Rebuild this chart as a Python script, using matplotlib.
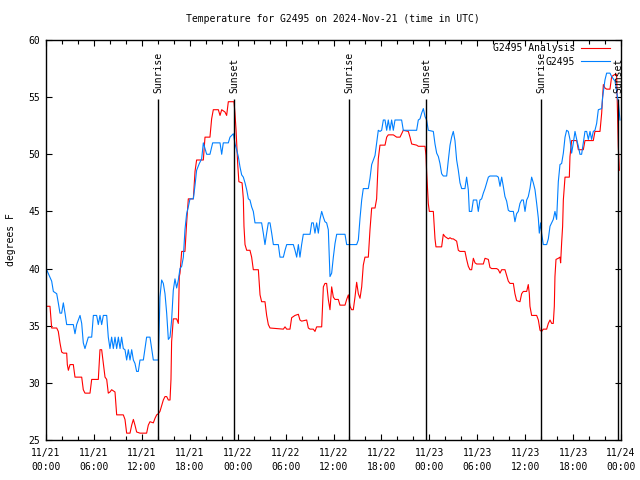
import matplotlib
matplotlib.use("Agg")
import matplotlib.pyplot as plt
import matplotlib.dates as mdates
import numpy as np
from datetime import datetime, timedelta

title = "Temperature for G2495 on 2024-Nov-21 (time in UTC)"
start = datetime(2024, 11, 21, 0, 0)

# hours since start, temperature (F)
obs_hours = [0.08, 0.71, 0.92, 1.34, 1.54, 1.75, 1.96, 2.17, 2.38, 2.59, 3.42, 3.63, 3.84, 4.26, 4.47, 4.67, 4.88,
             5.30, 5.72, 5.93, 6.34, 6.55, 6.76, 6.97, 7.18, 7.60, 7.80, 8.01, 8.22, 8.43, 8.64, 8.85, 9.06, 9.27,
             9.47, 9.68, 9.89, 10.10, 10.31, 10.52, 10.73, 10.94, 11.14, 11.35, 11.56, 11.77, 12.19, 12.40, 12.60,
             13.02, 13.23, 13.44, 14.07, 14.27, 14.48, 14.69, 14.90, 15.11, 15.32, 15.53, 15.73, 15.94, 16.15,
             16.36, 16.57, 16.78, 16.99, 17.20, 17.40, 17.61, 17.82, 18.03, 18.45, 18.66, 18.86, 19.20, 19.49,
             19.70, 20.12, 20.53, 20.87, 21.79, 22.00, 22.20, 22.83, 23.04,
             23.46, 23.67, 23.87, 24.08, 24.29, 24.50, 24.71, 24.92, 25.13, 25.34, 25.54, 25.75, 25.96, 26.17,
             27.00, 27.21, 27.42, 27.63, 27.84, 28.05, 28.26, 28.47, 29.09, 29.30, 29.72, 29.93, 30.14, 30.97,
             31.18, 31.39, 31.60, 31.80, 32.01, 32.22, 33.06, 33.27, 33.47, 33.68, 33.89, 34.10, 34.31, 34.52,
             34.73, 34.93, 35.14, 35.35, 35.56, 35.77, 35.98, 36.19, 36.40, 37.44, 37.65, 38.90, 39.11, 39.32,
             39.53, 39.73, 40.36, 40.57, 40.78, 40.99, 41.20, 41.40, 41.61, 41.82, 42.03, 42.24, 42.45, 42.66,
             42.86, 43.07, 43.28, 43.49, 43.70, 44.53, 44.74, 46.41, 46.62, 46.83, 47.04, 47.25,
             47.46, 47.66, 47.87, 48.50, 48.71, 48.92, 49.13, 49.33, 49.54, 49.75, 50.17, 50.38, 50.59, 50.79,
             51.00, 51.21, 51.42, 51.63, 51.84, 52.05, 52.46, 52.67, 52.88, 53.01, 53.30, 53.51, 53.93, 54.13,
             54.34, 54.55, 54.76, 54.97, 55.18, 55.39, 55.59, 56.43, 56.64, 56.85, 57.06, 57.26, 57.47, 57.68,
             57.89, 58.10, 58.52, 58.72, 58.93, 59.14, 59.35, 59.56, 59.77, 59.98, 60.19, 60.39, 60.60, 60.81,
             61.02, 61.23, 61.44, 61.65, 61.77, 61.94, 62.06, 62.27, 62.69, 62.90, 63.11, 63.32, 63.52, 63.73,
             63.94, 64.15, 64.36, 64.57, 64.78, 64.99, 65.19, 65.40, 65.61, 65.82, 66.03, 66.24, 66.45, 66.66,
             66.86, 67.07, 67.28, 67.49, 67.70, 67.91, 68.12, 68.32, 68.53, 68.74, 68.95, 69.16, 69.58, 69.70,
             69.87, 69.99, 70.20, 70.62, 70.83, 71.04, 71.25, 71.45, 71.66, 71.87]
obs_temps = [39.9, 38.9, 38.0, 37.8, 37.0, 36.1, 36.1, 37.0, 36.1, 35.1, 35.1, 34.3, 35.1, 35.9, 35.2, 33.5, 33.0,
             34.0, 34.0, 35.9, 35.9, 35.1, 35.9, 35.1, 35.9, 35.9, 34.0, 33.0, 34.0, 33.0, 34.0, 33.0, 34.0, 33.0,
             34.0, 33.0, 32.9, 32.0, 32.9, 32.0, 32.9, 32.0, 31.7, 31.0, 31.0, 32.0, 32.0, 33.0, 34.0,
             34.0, 33.0, 32.0, 32.0, 37.5, 39.0, 38.7, 37.8, 36.1, 33.8, 34.0, 35.5, 38.1, 39.1,
             38.3, 39.0, 40.0, 40.2, 41.0, 43.4, 44.8, 45.4, 46.1, 46.1, 47.3, 48.6, 49.2, 49.6,
             51.0, 50.0, 50.0, 51.0, 51.0, 50.0, 51.0, 51.0, 51.5,
             51.8, 50.9, 50.4, 49.8, 48.9, 48.2, 48.0, 47.5, 46.9, 46.1, 46.0, 45.4, 45.0, 44.0,
             44.0, 43.1, 42.1, 43.1, 44.0, 44.0, 43.1, 42.1, 42.1, 41.0, 41.0, 41.6, 42.1, 42.1,
             41.6, 41.0, 42.1, 41.0, 42.1, 43.0, 43.0, 44.0, 44.0, 43.1, 44.0, 43.1, 44.3, 45.0,
             44.5, 44.1, 44.0, 43.4, 39.3, 39.6, 41.0, 42.2, 43.0, 43.0, 42.1, 42.1, 42.5, 44.4,
             46.0, 47.0, 47.0, 47.9, 49.1, 49.5, 49.9, 51.0, 52.1, 52.0, 52.1, 53.0, 53.0, 52.1,
             53.0, 52.1, 53.0, 52.1, 53.0, 53.0, 52.1, 52.1, 53.0, 53.1, 53.6, 54.0,
             53.3, 53.0, 52.1, 52.0, 50.9, 50.1, 49.8, 49.2, 48.3, 48.1, 48.1, 49.5, 50.8, 51.5,
             52.0, 51.2, 49.5, 48.6, 47.5, 47.0, 47.0, 48.0, 46.9, 45.0, 45.0, 46.0, 46.0, 45.0,
             46.0, 46.1, 46.6, 47.0, 47.5, 48.0, 48.1, 48.1, 48.0, 47.2, 48.0, 47.2, 46.3, 45.9,
             45.1, 45.0, 45.0, 44.1, 44.8, 45.0, 45.7, 46.0, 46.0, 45.0, 46.0, 46.3, 47.0, 48.0,
             47.5, 46.9, 45.7, 44.4, 43.1, 44.0, 43.1, 42.1, 42.1, 42.6, 43.7, 44.0, 44.3, 45.0,
             44.3, 47.6, 49.1, 49.2, 50.1, 51.5, 52.1, 52.0, 51.3, 50.1, 51.0, 52.0, 51.3, 50.7,
             50.0, 50.0, 51.0, 52.0, 52.0, 51.3, 52.0, 51.3, 52.0, 52.1, 52.7, 53.9, 54.0, 55.0,
             55.9, 56.5, 57.1, 57.1, 56.8, 56.6, 56.4, 55.5, 54.6, 53.0]

ana_hours = [0.08, 0.50, 0.71, 1.34, 1.54, 1.75, 1.96, 2.17, 2.59, 2.67, 2.80, 3.01, 3.42, 3.63, 4.47, 4.67, 4.88,
             5.51, 5.72, 6.55, 6.76, 6.97, 7.18, 7.39, 7.60, 7.80, 8.01, 8.22, 8.64, 8.85, 9.68, 9.89, 10.10,
             10.52, 10.73, 10.94, 11.14, 11.35, 11.77, 12.60, 12.81, 13.02, 13.44, 13.65, 13.86, 14.07, 14.27,
             14.69, 14.90, 15.11, 15.32, 15.53, 15.65, 15.73, 15.94, 16.36, 16.57, 16.69, 16.78, 16.99, 17.40,
             17.61, 17.82, 18.45, 18.66, 18.86, 19.70, 19.91, 20.53, 20.74, 20.95, 21.58, 21.79, 22.00, 22.41,
             22.62, 22.83, 23.54, 23.66, 23.80, 24.00, 24.15, 24.55, 24.71, 24.79, 24.92, 25.13, 25.54, 25.75,
             25.96, 26.59, 26.80, 27.00, 27.42, 27.63, 27.84, 28.05, 29.72, 29.93, 30.14, 30.55, 30.76, 31.18,
             31.60, 31.80, 32.01, 32.64, 32.85, 33.06, 33.47, 33.68, 33.89, 34.52, 34.73, 34.93, 35.14, 35.35,
             35.56, 35.77, 35.98, 36.19, 36.60, 36.81, 37.44, 37.65, 37.86, 38.07, 38.27, 38.48, 38.69, 38.90,
             39.11, 39.32, 39.53, 39.73, 39.94, 40.36, 40.57, 40.78, 41.20, 41.40, 41.61, 41.82, 42.45, 42.66,
             42.86, 43.49, 43.91, 44.33, 44.53, 44.74, 45.37, 45.58, 45.79, 46.41, 46.62, 47.46, 47.58, 47.66,
             47.87, 48.00, 48.50, 48.71, 48.83, 49.54, 49.75, 49.96, 50.38, 50.59, 50.79, 51.00, 51.42, 51.63,
             51.84, 52.46, 52.67, 52.88, 53.09, 53.30, 53.51, 53.72, 53.93, 54.76, 54.97, 55.39, 55.59, 55.80,
             56.43, 56.64, 56.85, 57.06, 57.47, 57.68, 57.89, 58.10, 58.52, 58.72, 58.93, 59.35, 59.56, 59.77,
             60.19, 60.39, 60.52, 60.60, 60.81, 61.44, 61.65, 61.86, 62.06, 62.27, 62.69, 62.90, 63.11, 63.32,
             63.52, 63.65, 63.73, 63.86, 64.15, 64.36, 64.44, 64.57, 64.69, 64.78, 64.99, 65.53, 65.61, 65.82,
             66.45, 66.66, 67.28, 67.49, 68.53, 68.74, 69.37, 69.58, 69.70, 69.79, 69.99, 70.20, 70.62, 70.83,
             71.25, 71.45, 71.66, 71.79]
ana_temps = [36.7, 36.7, 34.8, 34.8, 34.5, 33.5, 32.7, 32.6, 32.6, 31.6, 31.1, 31.6, 31.6, 30.5, 30.5, 29.4, 29.1,
             29.1, 30.3, 30.3, 32.9, 32.9, 31.7, 30.5, 30.3, 29.1, 29.2, 29.4, 29.2, 27.2, 27.2, 26.8, 25.6,
             25.6, 26.3, 26.8, 26.3, 25.7, 25.6, 25.6, 26.3, 26.6, 26.5, 26.9, 27.2, 27.3, 27.5,
             28.5, 28.8, 28.8, 28.5, 28.5, 30.3, 33.6, 35.6, 35.6, 35.2, 39.3, 39.6, 41.5, 41.5,
             44.0, 46.1, 46.1, 48.5, 49.5, 49.5, 51.5, 51.5, 53.1, 53.9, 53.9, 53.4, 53.9, 53.7,
             53.4, 54.6, 54.6, 53.6, 52.1, 49.2, 47.6, 47.5, 46.1, 43.7, 42.1, 41.6, 41.6, 41.0,
             39.9, 39.9, 37.7, 37.1, 37.1, 35.9, 35.1, 34.8, 34.7, 34.9, 34.7, 34.7, 35.7, 35.9,
             36.0, 35.5, 35.4, 35.5, 34.8, 34.7, 34.7, 34.5, 34.9, 34.9, 38.4, 38.7, 38.7, 37.3,
             36.4, 38.4, 37.5, 37.3, 37.3, 36.8, 36.8, 37.3, 37.7, 36.7, 36.4, 36.4, 37.5, 38.8,
             37.8, 37.4, 38.4, 40.3, 41.0, 41.0, 43.4, 45.3, 45.3, 46.1, 49.6, 50.8, 50.8, 51.5,
             51.7, 51.7, 51.5, 51.5, 51.8, 52.1, 52.0, 51.5, 50.9, 50.8, 50.7, 50.7, 49.9, 48.5,
             45.7, 45.0, 45.0, 42.6, 41.9, 41.9, 43.0, 42.8, 42.6, 42.7, 42.6, 42.6, 42.4, 41.6,
             41.5, 41.5, 40.8, 40.2, 39.9, 39.9, 40.9, 40.5, 40.4, 40.4, 40.9, 40.8, 40.1, 40.0,
             40.0, 39.9, 39.6, 39.9, 39.9, 39.4, 38.9, 38.7, 38.7, 37.8, 37.2, 37.1, 37.8, 38.0,
             38.0, 38.6, 37.8, 36.7, 35.9, 35.9, 35.5, 34.6, 34.5, 34.7, 34.7, 35.2, 35.5, 35.2,
             35.2, 36.7, 39.3, 40.8, 40.9, 41.0, 40.5, 42.3, 43.7, 46.0, 48.0, 48.0, 49.8, 51.2,
             51.2, 50.4, 50.4, 51.2, 51.2, 52.0, 52.0, 53.6, 55.0, 56.1, 55.8, 55.7, 55.7, 56.8,
             57.0, 57.0, 50.7, 48.6]

sun_labels = ["Sunrise", "Sunset", "Sunrise", "Sunset", "Sunrise", "Sunset"]
sun_hours = [14.07, 23.58, 37.94, 47.62, 62.02, 71.62]

plt.rcParams['font.family'] = ['DejaVu Sans Mono']
FS = 7

def to_dt(hours):
    return [start + timedelta(hours=h) for h in hours]

fig = plt.figure(figsize=(6.4, 4.8), dpi=100)
ax = fig.add_axes([46/640, 40/480, 575/640, 400/480])

ax.plot(to_dt(ana_hours), ana_temps, color='#ff0000', lw=0.8, label='G2495 Analysis')
ax.plot(to_dt(obs_hours), obs_temps, color='#0080ff', lw=0.8, label='G2495')

for lab, h in zip(sun_labels, sun_hours):
    t = start + timedelta(hours=h)
    ax.vlines(t, 25, 54.8, color='black', lw=1.0)
    ax.text(t, 55.35, lab, rotation=90, ha='center', va='bottom', fontsize=FS)

ax.set_xlim(start, start + timedelta(hours=72))
ax.set_ylim(25, 60)
ax.set_yticks(np.arange(25, 61, 5))
ax.xaxis.set_major_locator(mdates.HourLocator(byhour=[0, 6, 12, 18]))
ax.xaxis.set_minor_locator(mdates.HourLocator(interval=2))
ax.xaxis.set_major_formatter(mdates.DateFormatter('%m/%d\n%H:%M'))
ax.tick_params(axis='both', which='both', direction='in', top=True, right=True, labelsize=FS)
ax.tick_params(axis='both', which='major', length=4.5, width=0.8)
ax.tick_params(axis='x', which='minor', length=3, width=0.8)
ax.tick_params(axis='x', which='major', pad=6)
ax.tick_params(axis='y', which='major', pad=4)
for lbl in ax.get_xticklabels():
    lbl.set_linespacing(1.45)
for s in ax.spines.values():
    s.set_linewidth(1.0)

ax.set_ylabel('degrees F', fontsize=FS, labelpad=9)
fig.text(333/640, 1 - 19/480, title, ha='center', va='center', fontsize=FS)

leg = ax.legend(loc='upper right', bbox_to_anchor=((612 - 46) / 575, 1 - 1.5 / 400),
                frameon=False, markerfirst=False, fontsize=FS,
                handlelength=3.0, handletextpad=0.6, labelspacing=0.35,
                borderaxespad=0.0, borderpad=0.2)

fig.savefig('out.png', dpi=100)
